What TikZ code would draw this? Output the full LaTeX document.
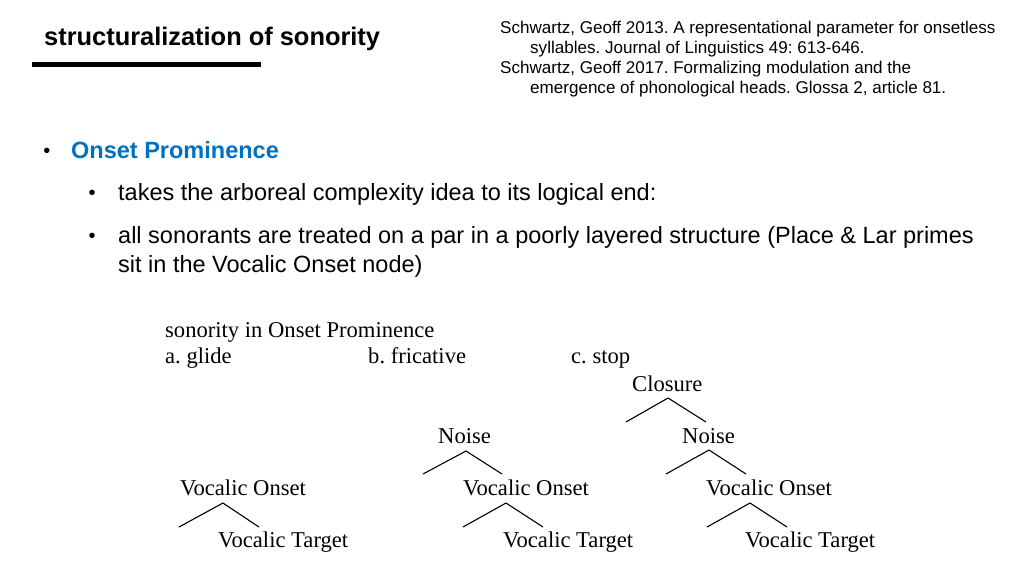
\documentclass[tikz,border=0pt]{standalone}
\usepackage{fontspec}
\setmainfont{Liberation Serif}
\setsansfont{Liberation Sans}
\definecolor{headblue}{HTML}{0070C0}
\frenchspacing
\begin{document}
\begin{tikzpicture}[x=1pt,y=-1pt,
  slide/.style={anchor=base west,inner sep=0pt,font=\sffamily\fontsize{23.5}{28}\selectfont},
  refs/.style={anchor=base west,inner sep=0pt,font=\sffamily\fontsize{17.05}{20}\selectfont},
  dot/.style={anchor=base,inner sep=0pt,font=\sffamily\fontsize{20}{24}\selectfont},
  tree/.style={anchor=base west,inner sep=0pt,font=\fontsize{22.6}{26}\selectfont},
  branch/.style={line width=1.1pt}]
\useasboundingbox (0,0) rectangle (1024,576);
% Titel und Literatur
\node[slide,font=\sffamily\bfseries\fontsize{25.4}{28}\selectfont] (title) at (44,45) {structuralization of sonority};
\draw[line width=5pt] (32,64)--(261,64);
\node[refs] (ref1) at (500,33) {Schwartz, Geoff 2013. A representational parameter for onsetless};
\node[refs] (ref2) at (530,53) {syllables. Journal of Linguistics 49: 613-646.};
\node[refs] (ref3) at (500,73) {Schwartz, Geoff 2017. Formalizing modulation and the};
\node[refs] (ref4) at (530,93) {emergence of phonological heads. Glossa 2, article 81.};
% Aufzaehlung
\node[dot] (b0) at (47,157) {•};
\node[slide,font=\sffamily\bfseries\fontsize{23.5}{28}\selectfont,text=headblue] (onset) at (71,158) {Onset Prominence};
\node[dot] (b1) at (92,199) {•};
\node[slide] (item1) at (118,200) {takes the arboreal complexity idea to its logical end:};
\node[dot] (b2) at (92,242) {•};
\node[slide] (item2) at (118,243) {all sonorants are treated on a par in a poorly layered structure (Place \& Lar primes};
\node[slide] (item2b) at (118,272) {sit in the Vocalic Onset node)};
% Baeume
\node[tree] (head) at (165,337) {sonority in Onset Prominence};
\node[tree] (la) at (165,363) {a. glide};
\node[tree] (lb) at (368,363) {b. fricative};
\node[tree] (lc) at (571,363) {c. stop};
% a. glide
\node[tree] (voa) at (180,495) {Vocalic Onset};
\node[tree] (vta) at (218,547) {Vocalic Target};
\draw[branch] (179,527)--(223,503)--(259,527); % Vocalic Onset
% b. fricative
\node[tree] (nob) at (438,443) {Noise};
\node[tree] (vob) at (463,495) {Vocalic Onset};
\node[tree] (vtb) at (503,547) {Vocalic Target};
\draw[branch] (423,474)--(466,451)--(502,474); % Noise
\draw[branch] (463,527)--(506,503)--(543,527); % Vocalic Onset
% c. stop
\node[tree] (clc) at (632,391) {Closure};
\node[tree] (noc) at (682,443) {Noise};
\node[tree] (voc) at (706,495) {Vocalic Onset};
\node[tree] (vtc) at (745,547) {Vocalic Target};
\draw[branch] (626,422)--(668,398)--(706,422); % Closure
\draw[branch] (666,474)--(709,450)--(746,474); % Noise
\draw[branch] (707,527)--(750,503)--(787,527); % Vocalic Onset
\end{tikzpicture}
\end{document}
